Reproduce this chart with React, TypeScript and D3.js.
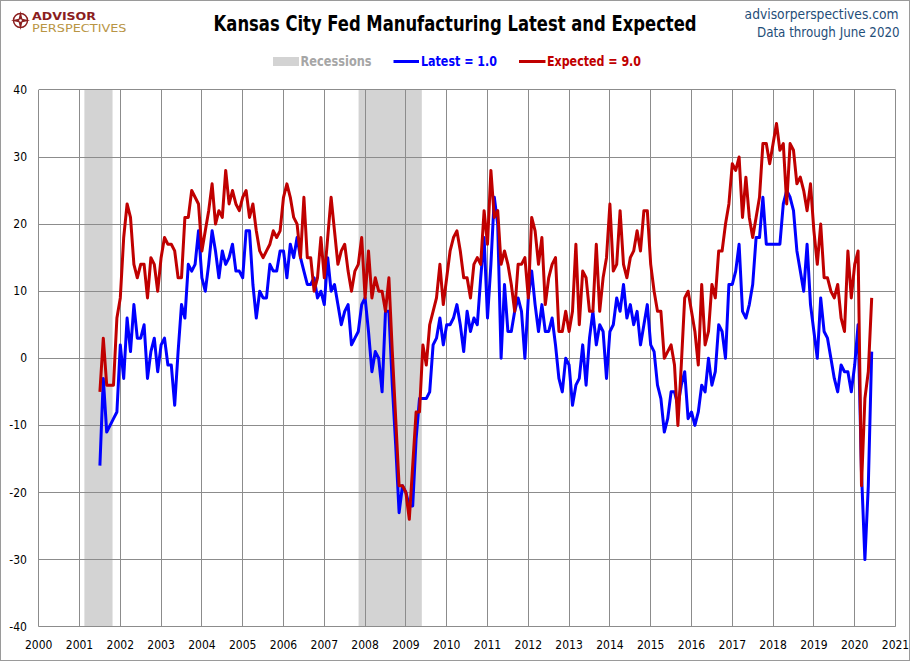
import React from "react";
import * as d3 from "d3";

// ---- data (monthly, Jul 2001 .. Jun 2020) ----
const startYear = 2001;
const startMonth = 7;

const latest: number[] = [
  -16, -3, -11, -10, -9, -8,
  2, -3, 6, 1, 8, 3, 3, 5, -3, 1, 3, -2,
  2, 3, -1, -1, -7, 1, 8, 6, 14, 13, 14, 19,
  12, 10, 14, 19, 16, 12, 16, 14, 15, 17, 13, 13,
  12, 19, 19, 11, 6, 10, 9, 9, 14, 13, 13, 16,
  16, 12, 17, 15, 18, 15, 13, 11, 11, 12, 9, 10,
  8, 15, 10, 11, 8, 5, 7, 8, 2, 3, 4, 8,
  9, 4, -2, 1, 0, -5, 7, 7, -4, -13, -23, -19,
  -20, -22, -22, -12, -6, -6, -6, -5, 2, 3, 6, 2,
  5, 5, 6, 8, 5, 1, 7, 4, 6, 5, 12, 18,
  6, 14, 24, 20, 0, 11, 4, 4, 7, 9, 7, 0,
  9, 13, 8, 4, 8, 4, 4, 6, 2, -3, -5, 0,
  -1, -7, -4, -3, 2, -4, 3, 7, 2, 5, 4, -3,
  4, 5, 9, 7, 11, 6, 8, 5, 7, 2, 5, 8,
  2, 1, -4, -6, -11, -9, -5, -5, -7, -4, -2, -9,
  -8, -10, -8, -4, -5, 0, -4, -2, 5, 4, 0, 11,
  11, 13, 17, 7, 6, 8, 11, 18, 18, 24, 17, 17,
  17, 17, 17, 23, 25, 24, 22, 16, 13, 10, 17, 8,
  4, 0, 9, 4, 3, 0, -3, -5, -1, -2, -2, -5,
  -1, 5, -17, -30, -19, 1,
];

const expected: number[] = [
  -5, 3, -4, -4, -4, 6,
  9, 18, 23, 21, 14, 12, 14, 14, 9, 15, 14, 10,
  15, 18, 17, 17, 16, 12, 12, 21, 21, 25, 24, 23,
  16, 19, 22, 26, 20, 22, 21, 28, 23, 25, 23, 22,
  24, 25, 21, 23, 19, 16, 15, 16, 17, 19, 18, 19,
  24, 26, 24, 21, 20, 15, 24, 15, 15, 10, 12, 18,
  12, 18, 24, 19, 14, 16, 17, 13, 10, 13, 14, 18,
  9, 16, 9, 12, 10, 10, 7, 12, 1, -9, -19, -19,
  -20, -24, -16, -8, -8, 2, -1, 5, 7, 9, 14, 8,
  12, 16, 18, 19, 16, 12, 12, 9, 14, 15, 14, 22,
  17, 28, 21, 22, 14, 16, 14, 11, 7, 14, 14, 15,
  9, 21, 19, 14, 18, 8, 12, 14, 15, 4, 4, 7,
  4, 7, 17, 5, 13, 12, 7, 7, 17, 7, 12, 15,
  23, 13, 14, 22, 14, 12, 15, 16, 19, 16, 22, 22,
  14, 10, 7, 7, 0, 1, 2, -1, -10, -1, 9, 10,
  7, 4, -1, 11, 2, 4, 11, 9, 16, 16, 20, 23,
  29, 28, 30, 21, 27, 21, 18, 21, 24, 32, 32, 29,
  32, 35, 31, 32, 23, 32, 31, 26, 27, 25, 22, 26,
  19, 14, 20, 12, 12, 10, 9, 11, 6, 4, 16, 9,
  14, 16, -19, -6, -2, 9,
];

const recessionStarts = [2001.12, 2007.84];
const recessionEnds = [2001.81, 2009.39];

const yTicks = [-40, -30, -20, -10, 0, 10, 20, 30, 40];
const xTicks = d3.range(2000, 2022);

const titleText = "Kansas City Fed Manufacturing Latest and Expected";
const legendLabels = ["Recessions", "Latest = 1.0", "Expected = 9.0"];

const BLUE = "#0000FF";
const RED = "#C00000";
const GRID = "#8c8c8c";
const REC = "#d3d3d3";
const FONT = "'Liberation Sans Narrow', 'DejaVu Sans Condensed', 'Liberation Sans', Arial, sans-serif";

export default function App() {
  const x = d3.scaleLinear().domain([2000, 2021]).range([38.7, 895.5]);
  const y = d3.scaleLinear().domain([-40, 40]).range([626.7, 89.9]);
  const t = (i: number) => startYear + (startMonth - 1) / 12 + i / 12;
  const line = d3
    .line<number>()
    .x((_, i) => x(t(i)))
    .y((d) => y(d));

  const crisp = (v: number) => Math.floor(v) + 0.5;
  const top = y(40);
  const bottom = y(-40);

  return (
    <svg
      width={910}
      height={661}
      style={{ position: "absolute", left: 0, top: 0, background: "#fff" }}
      fontFamily={FONT}
    >
      <rect x={0} y={0} width={910} height={661} fill="#fff" />
      <rect x={0.5} y={0.5} width={909} height={660} fill="none" stroke="#9a9a9a" />

      {/* recession bands */}
      {recessionStarts.map((s, i) => (
        <rect
          key={"rec" + i}
          x={x(s)}
          y={top}
          width={x(recessionEnds[i]) - x(s)}
          height={bottom - top}
          fill={REC}
        />
      ))}

      {/* gridlines */}
      {xTicks.map((yr) => (
        <line
          key={"vx" + yr}
          x1={crisp(x(yr))}
          x2={crisp(x(yr))}
          y1={top}
          y2={bottom}
          stroke={GRID}
          strokeWidth={1}
        />
      ))}
      {yTicks.map((v) => (
        <line
          key={"hy" + v}
          x1={x(2000)}
          x2={x(2021)}
          y1={crisp(y(v))}
          y2={crisp(y(v))}
          stroke={GRID}
          strokeWidth={1}
        />
      ))}

      {/* axis labels */}
      {yTicks.map((v) => (
        <text key={"yl" + v} x={27} y={y(v) + 4} fontSize={12} textAnchor="end" fill="#000">
          {v}
        </text>
      ))}
      {xTicks.map((yr) => (
        <text key={"xl" + yr} x={x(yr)} y={649} fontSize={12} textAnchor="middle" fill="#000">
          {yr}
        </text>
      ))}

      {/* series */}
      <path d={line(latest) || ""} fill="none" stroke={BLUE} strokeWidth={3} strokeLinejoin="round" />
      <path d={line(expected) || ""} fill="none" stroke={RED} strokeWidth={3} strokeLinejoin="round" />

      {/* title */}
      <text
        x={213.6}
        y={31}
        fontSize={21}
        fontWeight="bold"
        fill="#000"
        textLength={483}
        lengthAdjust="spacingAndGlyphs"
      >
        {titleText}
      </text>

      {/* top-right source */}
      <text x={744.6} y={18.5} fontSize={14} fill="#1F4E79" textLength={154} lengthAdjust="spacingAndGlyphs">
        advisorperspectives.com
      </text>
      <text x={757} y={36.5} fontSize={13.5} fill="#1F4E79" textLength={142.6} lengthAdjust="spacingAndGlyphs">
        Data through June 2020
      </text>

      {/* logo */}
      <g>
        <circle cx={20.5} cy={20.5} r={7} fill="none" stroke="#8B1E1E" strokeWidth={1.5} />
        <path d="M20.5,11 L22.3,18.7 L30,20.5 L22.3,22.3 L20.5,30 L18.7,22.3 L11,20.5 L18.7,18.7 Z" fill="#8B1E1E" />
        <circle cx={20.5} cy={20.5} r={1.3} fill="#fff" />
        <text x={32} y={19.5} fontSize={10.5} fontWeight="bold" fill="#8B1E1E" textLength={64} lengthAdjust="spacingAndGlyphs">
          ADVISOR
        </text>
        <text x={32} y={31.5} fontSize={10} fill="#B89544" textLength={94.5} lengthAdjust="spacingAndGlyphs">
          PERSPECTIVES
        </text>
      </g>

      {/* legend */}
      <rect x={273} y={57} width={26} height={9} fill={REC} />
      <text x={300.6} y={66} fontSize={13.5} fontWeight="bold" fill="#a6a6a6" textLength={71} lengthAdjust="spacingAndGlyphs">
        {legendLabels[0]}
      </text>
      <line x1={393.5} x2={419} y1={61.5} y2={61.5} stroke={BLUE} strokeWidth={3} />
      <text x={421} y={66} fontSize={13.5} fontWeight="bold" fill={BLUE} textLength={76} lengthAdjust="spacingAndGlyphs">
        {legendLabels[1]}
      </text>
      <line x1={519} x2={545.5} y1={61.5} y2={61.5} stroke={RED} strokeWidth={3} />
      <text x={547} y={66} fontSize={13.5} fontWeight="bold" fill={RED} textLength={94} lengthAdjust="spacingAndGlyphs">
        {legendLabels[2]}
      </text>
    </svg>
  );
}
